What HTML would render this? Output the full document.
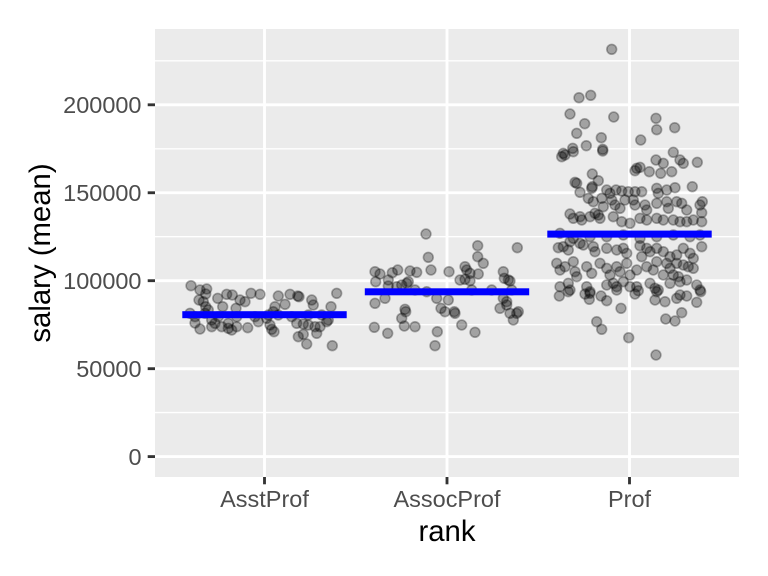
<!DOCTYPE html>
<html><head><meta charset="utf-8"><style>
html,body{margin:0;padding:0;background:#fff;}
svg{display:block;}
text{font-family:"Liberation Sans",Arial,sans-serif;}
</style></head><body>
<svg width="768" height="576" viewBox="0 0 768 576" xmlns="http://www.w3.org/2000/svg">
<rect x="0" y="0" width="768" height="576" fill="#fff"/>
<rect x="155" y="29" width="584" height="448" fill="#EBEBEB"/>
<g stroke="#fff" stroke-width="1.42">
<line x1="155" x2="739" y1="412.6" y2="412.6"/>
<line x1="155" x2="739" y1="324.7" y2="324.7"/>
<line x1="155" x2="739" y1="236.7" y2="236.7"/>
<line x1="155" x2="739" y1="148.8" y2="148.8"/>
<line x1="155" x2="739" y1="60.8" y2="60.8"/>
</g>
<g stroke="#fff" stroke-width="2.85">
<line x1="155" x2="739" y1="456.6" y2="456.6"/>
<line x1="155" x2="739" y1="368.7" y2="368.7"/>
<line x1="155" x2="739" y1="280.7" y2="280.7"/>
<line x1="155" x2="739" y1="192.75" y2="192.75"/>
<line x1="155" x2="739" y1="104.8" y2="104.8"/>
<line y1="29" y2="477" x1="264.5" x2="264.5"/>
<line y1="29" y2="477" x1="447" x2="447"/>
<line y1="29" y2="477" x1="629.5" x2="629.5"/>
</g>
<g fill="rgba(0,0,0,0.31)" stroke="rgba(0,0,0,0.31)" stroke-width="1.6">
<!-- AsstProf -->
<circle cx="191" cy="285.7" r="4.9"/><circle cx="206.7" cy="289" r="4.9"/><circle cx="205.7" cy="294" r="4.9"/><circle cx="199" cy="300" r="4.9"/><circle cx="203.3" cy="301.7" r="4.9"/><circle cx="205.7" cy="306.7" r="4.9"/><circle cx="217.7" cy="298.3" r="4.9"/><circle cx="226.7" cy="294.3" r="4.9"/><circle cx="232.3" cy="295" r="4.9"/><circle cx="240" cy="300" r="4.9"/><circle cx="245" cy="301.7" r="4.9"/><circle cx="251" cy="293.3" r="4.9"/><circle cx="260" cy="294.3" r="4.9"/><circle cx="222.7" cy="306.7" r="4.9"/><circle cx="236" cy="308.3" r="4.9"/><circle cx="195" cy="316.7" r="4.9"/><circle cx="195" cy="323" r="4.9"/><circle cx="200" cy="329" r="4.9"/><circle cx="211.7" cy="326.7" r="4.9"/><circle cx="211.7" cy="320" r="4.9"/><circle cx="221.7" cy="326.7" r="4.9"/><circle cx="228.3" cy="328.3" r="4.9"/><circle cx="231.7" cy="330" r="4.9"/><circle cx="236.7" cy="326.7" r="4.9"/><circle cx="247.7" cy="327.7" r="4.9"/><circle cx="258.3" cy="321.7" r="4.9"/><circle cx="266.7" cy="318.3" r="4.9"/><circle cx="270" cy="325" r="4.9"/><circle cx="271.7" cy="329.3" r="4.9"/><circle cx="274" cy="331.7" r="4.9"/><circle cx="275" cy="306.7" r="4.9"/><circle cx="273.3" cy="311.7" r="4.9"/><circle cx="278.3" cy="296" r="4.9"/><circle cx="285" cy="304.3" r="4.9"/><circle cx="290" cy="294.3" r="4.9"/><circle cx="297.7" cy="296" r="4.9"/><circle cx="299" cy="296.7" r="4.9"/><circle cx="311.7" cy="300" r="4.9"/><circle cx="313.3" cy="305" r="4.9"/><circle cx="336.7" cy="293.3" r="4.9"/><circle cx="331" cy="306.7" r="4.9"/><circle cx="296.7" cy="323.3" r="4.9"/><circle cx="303.3" cy="324" r="4.9"/><circle cx="308.3" cy="325" r="4.9"/><circle cx="315" cy="326.7" r="4.9"/><circle cx="320" cy="326.7" r="4.9"/><circle cx="326.7" cy="321.7" r="4.9"/><circle cx="328.3" cy="320" r="4.9"/><circle cx="316.7" cy="333.3" r="4.9"/><circle cx="298.3" cy="336.7" r="4.9"/><circle cx="303.3" cy="334.3" r="4.9"/><circle cx="306.7" cy="344" r="4.9"/><circle cx="332.3" cy="345.7" r="4.9"/><circle cx="218.3" cy="316.7" r="4.9"/><circle cx="205" cy="313.3" r="4.9"/><circle cx="236.7" cy="316.7" r="4.9"/><circle cx="255" cy="316.7" r="4.9"/><circle cx="278.3" cy="315" r="4.9"/><circle cx="308.3" cy="315" r="4.9"/><circle cx="321.7" cy="315" r="4.9"/><circle cx="215" cy="323.3" r="4.9"/><circle cx="190" cy="313.3" r="4.9"/><circle cx="208.3" cy="310" r="4.9"/><circle cx="200" cy="290" r="4.9"/><circle cx="228.3" cy="323.3" r="4.9"/><circle cx="268.3" cy="315" r="4.9"/><circle cx="291.7" cy="316.7" r="4.9"/>
<!-- AssocProf -->
<circle cx="426" cy="234" r="4.9"/><circle cx="477.7" cy="245.7" r="4.9"/><circle cx="517.3" cy="247.7" r="4.9"/><circle cx="477.7" cy="256.7" r="4.9"/><circle cx="428.3" cy="257.3" r="4.9"/><circle cx="483.3" cy="263.3" r="4.9"/><circle cx="465" cy="266.7" r="4.9"/><circle cx="466.7" cy="270" r="4.9"/><circle cx="470" cy="273.3" r="4.9"/><circle cx="478.3" cy="274" r="4.9"/><circle cx="460" cy="280" r="4.9"/><circle cx="465" cy="279.3" r="4.9"/><circle cx="470" cy="280.7" r="4.9"/><circle cx="449" cy="271.7" r="4.9"/><circle cx="431" cy="270" r="4.9"/><circle cx="416.7" cy="272.3" r="4.9"/><circle cx="410" cy="271" r="4.9"/><circle cx="397.7" cy="270" r="4.9"/><circle cx="392.3" cy="272.7" r="4.9"/><circle cx="375" cy="271.7" r="4.9"/><circle cx="380" cy="274" r="4.9"/><circle cx="375.7" cy="281.7" r="4.9"/><circle cx="388.3" cy="280" r="4.9"/><circle cx="388.3" cy="286" r="4.9"/><circle cx="396.7" cy="286.7" r="4.9"/><circle cx="401.7" cy="285" r="4.9"/><circle cx="406.7" cy="283.3" r="4.9"/><circle cx="408.3" cy="281.7" r="4.9"/><circle cx="426.7" cy="291.7" r="4.9"/><circle cx="436.7" cy="298.3" r="4.9"/><circle cx="448.3" cy="300" r="4.9"/><circle cx="385" cy="298.3" r="4.9"/><circle cx="375" cy="303.3" r="4.9"/><circle cx="405" cy="309.3" r="4.9"/><circle cx="405.7" cy="311.7" r="4.9"/><circle cx="401.7" cy="318.3" r="4.9"/><circle cx="404.3" cy="326" r="4.9"/><circle cx="415" cy="326.7" r="4.9"/><circle cx="374.3" cy="327.3" r="4.9"/><circle cx="387.7" cy="333.3" r="4.9"/><circle cx="441" cy="308.3" r="4.9"/><circle cx="445" cy="311.7" r="4.9"/><circle cx="454.3" cy="311.7" r="4.9"/><circle cx="455" cy="313.3" r="4.9"/><circle cx="461.7" cy="325" r="4.9"/><circle cx="437.3" cy="331.7" r="4.9"/><circle cx="475" cy="332.3" r="4.9"/><circle cx="435" cy="345.7" r="4.9"/><circle cx="503.3" cy="271.7" r="4.9"/><circle cx="504.3" cy="278.3" r="4.9"/><circle cx="508.3" cy="280" r="4.9"/><circle cx="510" cy="281" r="4.9"/><circle cx="503.3" cy="298.3" r="4.9"/><circle cx="506.7" cy="301.7" r="4.9"/><circle cx="506.7" cy="305" r="4.9"/><circle cx="500" cy="308.3" r="4.9"/><circle cx="510" cy="313.3" r="4.9"/><circle cx="518.3" cy="311.7" r="4.9"/><circle cx="516.7" cy="313.3" r="4.9"/><circle cx="513.3" cy="320" r="4.9"/><circle cx="471.7" cy="290" r="4.9"/><circle cx="491.7" cy="290" r="4.9"/><circle cx="511.7" cy="290" r="4.9"/><circle cx="415" cy="290" r="4.9"/>
<!-- Prof upper -->
<circle cx="611.7" cy="49.3" r="4.9"/><circle cx="579" cy="97.7" r="4.9"/><circle cx="590.7" cy="95.3" r="4.9"/><circle cx="570" cy="114" r="4.9"/><circle cx="613.7" cy="117" r="4.9"/><circle cx="584.7" cy="123.7" r="4.9"/><circle cx="576.7" cy="133.3" r="4.9"/><circle cx="601.3" cy="137.7" r="4.9"/><circle cx="586.3" cy="145.7" r="4.9"/><circle cx="656" cy="118.3" r="4.9"/><circle cx="656.7" cy="129.7" r="4.9"/><circle cx="674.7" cy="127.7" r="4.9"/><circle cx="640.7" cy="140" r="4.9"/><circle cx="602.7" cy="149.3" r="4.9"/><circle cx="572.7" cy="148.3" r="4.9"/><circle cx="563.3" cy="153.3" r="4.9"/><circle cx="673.3" cy="152.3" r="4.9"/>
<!-- Prof mid -->
<circle cx="561.7" cy="156.7" r="4.9"/><circle cx="565" cy="155" r="4.9"/><circle cx="573.3" cy="151.7" r="4.9"/><circle cx="602.7" cy="151" r="4.9"/><circle cx="656" cy="160" r="4.9"/><circle cx="663.3" cy="163.3" r="4.9"/><circle cx="680" cy="160" r="4.9"/><circle cx="683.3" cy="163.3" r="4.9"/><circle cx="697.3" cy="162.3" r="4.9"/><circle cx="636.7" cy="168.3" r="4.9"/><circle cx="635" cy="170.7" r="4.9"/><circle cx="640" cy="167.3" r="4.9"/><circle cx="649.3" cy="171.7" r="4.9"/><circle cx="660.7" cy="173.3" r="4.9"/><circle cx="671.7" cy="171.7" r="4.9"/><circle cx="592.3" cy="174" r="4.9"/><circle cx="575" cy="182.3" r="4.9"/><circle cx="576.7" cy="183.3" r="4.9"/><circle cx="598.3" cy="180.7" r="4.9"/><circle cx="592.3" cy="186.7" r="4.9"/><circle cx="591.7" cy="188.3" r="4.9"/><circle cx="580" cy="192.3" r="4.9"/><circle cx="606.7" cy="190" r="4.9"/><circle cx="610" cy="193.3" r="4.9"/><circle cx="616" cy="190" r="4.9"/><circle cx="621.7" cy="191" r="4.9"/><circle cx="628.3" cy="191.7" r="4.9"/><circle cx="635" cy="191.7" r="4.9"/><circle cx="641.7" cy="191.7" r="4.9"/><circle cx="656.7" cy="188.3" r="4.9"/><circle cx="658.3" cy="193.3" r="4.9"/><circle cx="666.7" cy="190" r="4.9"/><circle cx="675" cy="187.7" r="4.9"/><circle cx="692.3" cy="186.7" r="4.9"/><circle cx="588.3" cy="198.3" r="4.9"/><circle cx="593.3" cy="201.7" r="4.9"/><circle cx="601.7" cy="198.3" r="4.9"/><circle cx="611.7" cy="200" r="4.9"/><circle cx="625" cy="200" r="4.9"/><circle cx="633.3" cy="200" r="4.9"/><circle cx="635" cy="205" r="4.9"/><circle cx="645" cy="205" r="4.9"/><circle cx="646.7" cy="210" r="4.9"/><circle cx="656.7" cy="203.3" r="4.9"/><circle cx="666.7" cy="201.7" r="4.9"/><circle cx="668.3" cy="208.3" r="4.9"/><circle cx="676.7" cy="201.7" r="4.9"/><circle cx="681.7" cy="203.3" r="4.9"/><circle cx="686.7" cy="210" r="4.9"/><circle cx="700" cy="205" r="4.9"/><circle cx="702.3" cy="201.7" r="4.9"/><circle cx="701.7" cy="212.7" r="4.9"/><circle cx="570" cy="214" r="4.9"/><circle cx="573.3" cy="218.3" r="4.9"/><circle cx="580" cy="216.7" r="4.9"/><circle cx="581.7" cy="220" r="4.9"/><circle cx="590" cy="216.7" r="4.9"/><circle cx="595" cy="213.3" r="4.9"/><circle cx="598.3" cy="215" r="4.9"/><circle cx="600" cy="218.3" r="4.9"/><circle cx="613.3" cy="216.7" r="4.9"/><circle cx="621.7" cy="221.7" r="4.9"/><circle cx="630" cy="223.3" r="4.9"/><circle cx="640" cy="218.3" r="4.9"/><circle cx="646.7" cy="220" r="4.9"/><circle cx="656.7" cy="218.3" r="4.9"/><circle cx="663.3" cy="220" r="4.9"/><circle cx="673.3" cy="220" r="4.9"/><circle cx="680" cy="221.7" r="4.9"/><circle cx="686.7" cy="221.7" r="4.9"/><circle cx="693.3" cy="220" r="4.9"/><circle cx="701.7" cy="221.7" r="4.9"/><circle cx="620" cy="208.3" r="4.9"/><circle cx="615" cy="205" r="4.9"/><circle cx="603.3" cy="206.7" r="4.9"/>
<!-- Prof lower -->
<circle cx="560" cy="233.3" r="4.9"/><circle cx="573.3" cy="238.3" r="4.9"/><circle cx="590" cy="236.7" r="4.9"/><circle cx="606.7" cy="236.7" r="4.9"/><circle cx="623.3" cy="235" r="4.9"/><circle cx="640" cy="238.3" r="4.9"/><circle cx="656.7" cy="236.7" r="4.9"/><circle cx="673.3" cy="235" r="4.9"/><circle cx="690" cy="236.7" r="4.9"/><circle cx="700" cy="235" r="4.9"/><circle cx="558.3" cy="247.7" r="4.9"/><circle cx="563.3" cy="246.7" r="4.9"/><circle cx="570" cy="241.7" r="4.9"/><circle cx="568.3" cy="250" r="4.9"/><circle cx="580" cy="243.3" r="4.9"/><circle cx="583.3" cy="245" r="4.9"/><circle cx="593.3" cy="246.7" r="4.9"/><circle cx="595" cy="251.7" r="4.9"/><circle cx="606.7" cy="248.3" r="4.9"/><circle cx="616.7" cy="250" r="4.9"/><circle cx="623.3" cy="248.3" r="4.9"/><circle cx="626.7" cy="253.3" r="4.9"/><circle cx="640" cy="245.7" r="4.9"/><circle cx="646.7" cy="248.3" r="4.9"/><circle cx="650" cy="251.7" r="4.9"/><circle cx="641.7" cy="256.7" r="4.9"/><circle cx="656.7" cy="248.3" r="4.9"/><circle cx="663.3" cy="251.7" r="4.9"/><circle cx="670" cy="256.7" r="4.9"/><circle cx="676.7" cy="255" r="4.9"/><circle cx="683.3" cy="248.3" r="4.9"/><circle cx="690" cy="253.3" r="4.9"/><circle cx="701.7" cy="246.7" r="4.9"/><circle cx="693.3" cy="258.3" r="4.9"/><circle cx="556.7" cy="263.3" r="4.9"/><circle cx="560" cy="270" r="4.9"/><circle cx="565" cy="266.7" r="4.9"/><circle cx="573.3" cy="261.7" r="4.9"/><circle cx="575" cy="271.7" r="4.9"/><circle cx="576.7" cy="276.7" r="4.9"/><circle cx="586.7" cy="266.7" r="4.9"/><circle cx="591.7" cy="273.3" r="4.9"/><circle cx="600" cy="263.3" r="4.9"/><circle cx="606.7" cy="268.3" r="4.9"/><circle cx="610" cy="275" r="4.9"/><circle cx="616.7" cy="266.7" r="4.9"/><circle cx="620" cy="271.7" r="4.9"/><circle cx="626.7" cy="263.3" r="4.9"/><circle cx="630" cy="275" r="4.9"/><circle cx="636.7" cy="270" r="4.9"/><circle cx="646.7" cy="266.7" r="4.9"/><circle cx="653.3" cy="270" r="4.9"/><circle cx="656.7" cy="261.7" r="4.9"/><circle cx="666.7" cy="263.3" r="4.9"/><circle cx="670" cy="268.3" r="4.9"/><circle cx="673.3" cy="275" r="4.9"/><circle cx="676.7" cy="263.3" r="4.9"/><circle cx="683.3" cy="265" r="4.9"/><circle cx="688.3" cy="266.7" r="4.9"/><circle cx="693.3" cy="268.3" r="4.9"/><circle cx="678.3" cy="276.7" r="4.9"/><circle cx="663.3" cy="275" r="4.9"/><circle cx="560" cy="286.7" r="4.9"/><circle cx="568.3" cy="283.3" r="4.9"/><circle cx="570" cy="290" r="4.9"/><circle cx="586.7" cy="286.7" r="4.9"/><circle cx="590" cy="291.7" r="4.9"/><circle cx="606.7" cy="285" r="4.9"/><circle cx="613.3" cy="283.3" r="4.9"/><circle cx="616.7" cy="286.7" r="4.9"/><circle cx="623.3" cy="281.7" r="4.9"/><circle cx="630" cy="286.7" r="4.9"/><circle cx="636.7" cy="286.7" r="4.9"/><circle cx="650" cy="283.3" r="4.9"/><circle cx="655" cy="288.3" r="4.9"/><circle cx="658.3" cy="290" r="4.9"/><circle cx="670" cy="283.3" r="4.9"/><circle cx="680" cy="281.7" r="4.9"/><circle cx="686.7" cy="280" r="4.9"/><circle cx="696.7" cy="285" r="4.9"/><circle cx="700" cy="290" r="4.9"/>
<!-- Prof bottom -->
<circle cx="559.3" cy="296" r="4.9"/><circle cx="568.3" cy="291.7" r="4.9"/><circle cx="585" cy="294" r="4.9"/><circle cx="590" cy="293.3" r="4.9"/><circle cx="589.3" cy="299.3" r="4.9"/><circle cx="601" cy="296" r="4.9"/><circle cx="606.7" cy="300.7" r="4.9"/><circle cx="616.7" cy="290" r="4.9"/><circle cx="635" cy="294" r="4.9"/><circle cx="638.3" cy="290.7" r="4.9"/><circle cx="655" cy="300" r="4.9"/><circle cx="656.7" cy="291.7" r="4.9"/><circle cx="665" cy="301.7" r="4.9"/><circle cx="676.7" cy="298.3" r="4.9"/><circle cx="680" cy="295" r="4.9"/><circle cx="686.7" cy="296" r="4.9"/><circle cx="696.7" cy="302.3" r="4.9"/><circle cx="700.7" cy="291.7" r="4.9"/><circle cx="621" cy="308.3" r="4.9"/><circle cx="681.7" cy="312.7" r="4.9"/><circle cx="665.7" cy="319" r="4.9"/><circle cx="675" cy="321" r="4.9"/><circle cx="596.7" cy="321.7" r="4.9"/><circle cx="601.7" cy="329.3" r="4.9"/><circle cx="628.7" cy="337.7" r="4.9"/><circle cx="656" cy="355" r="4.9"/>
</g>
<g fill="#0000FF">
<rect x="182.3" y="311.2" width="164.4" height="7"/>
<rect x="364.8" y="288.3" width="164.4" height="7"/>
<rect x="547.3" y="230.6" width="164.4" height="7"/>
</g>
<g stroke="#333333" stroke-width="2.85">
<line x1="147.7" x2="155" y1="456.6" y2="456.6"/>
<line x1="147.7" x2="155" y1="368.7" y2="368.7"/>
<line x1="147.7" x2="155" y1="280.7" y2="280.7"/>
<line x1="147.7" x2="155" y1="192.75" y2="192.75"/>
<line x1="147.7" x2="155" y1="104.8" y2="104.8"/>
<line x1="264.5" x2="264.5" y1="477" y2="484.3"/>
<line x1="447" x2="447" y1="477" y2="484.3"/>
<line x1="629.5" x2="629.5" y1="477" y2="484.3"/>
</g>
<g fill="#4D4D4D" font-size="23.47" text-anchor="end">
<text x="141.5" y="465">0</text>
<text x="141.5" y="377.1">50000</text>
<text x="141.5" y="289.1">100000</text>
<text x="141.5" y="201.2">150000</text>
<text x="141.5" y="113.2">200000</text>
</g>
<g fill="#4D4D4D" font-size="23.47" text-anchor="middle">
<text x="264.5" y="507">AsstProf</text>
<text x="447" y="507">AssocProf</text>
<text x="629.5" y="507">Prof</text>
</g>
<text x="447" y="541" font-size="29.33" text-anchor="middle" fill="#000">rank</text>
<text transform="translate(50,253) rotate(-90)" font-size="29.33" text-anchor="middle" fill="#000">salary (mean)</text>
</svg>
</body></html>
